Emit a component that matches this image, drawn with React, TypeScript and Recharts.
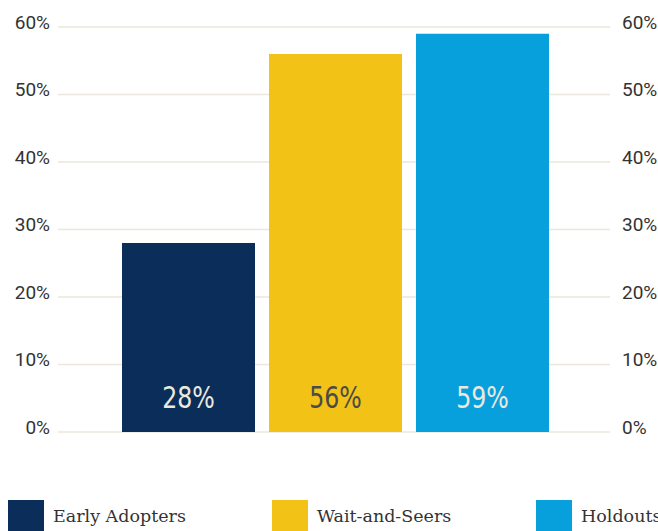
import { BarChart, Bar, Line, XAxis, YAxis, CartesianGrid, LabelList } from "recharts";

const groups = ["Early Adopters", "Wait-and-Seers", "Holdouts"];
const shares = [28, 56, 59];
const colors = ["#0a2d5a", "#f2c316", "#079fdc"];
const labelColors = ["#ece8dc", "#4a4a4a", "#ece8dc"];
const yTicks = [0, 10, 20, 30, 40, 50, 60];

const row: Record<string, number | string> = { name: "all" };
groups.forEach((g, i) => {
  row[g] = shares[i];
});
const data = [row];

const tickText = (anchor: "start" | "end") => (props: any) => {
  const { x, y, payload } = props;
  return (
    <text x={x} y={y - 5} dy="0.35em" textAnchor={anchor} fontFamily="Roboto" fontSize={19} fill="#333">
      {payload.value}%
    </text>
  );
};

// condensed look for the in-bar numbers
function valueLabel(color: string) {
  return (props: any) => {
    const { x, y, width, height, value } = props;
    const cx = x + width / 2;
    const base = y + height - 24;
    return (
      <text
        transform={`translate(${cx},${base}) scale(0.85,1)`}
        textAnchor="middle"
        fontFamily="DejaVu Sans Condensed"
        fontSize={31}
        fill={color}
      >
        {value}%
      </text>
    );
  };
}

export default function App() {
  return (
    <div style={{ position: "absolute", left: 0, top: 0, width: 658, height: 531, overflow: "hidden", background: "#fff" }}>
      <BarChart width={658} height={440} data={data} margin={{ top: 27, right: 0, bottom: 8, left: 0 }} barGap={14} barCategoryGap={0}>
        <CartesianGrid yAxisId="left" vertical={false} stroke="#ebe7dc" strokeWidth={1.5} />
        <XAxis dataKey="name" hide padding={{ left: 63, right: 61 }} />
        <YAxis yAxisId="left" orientation="left" width={58} domain={[0, 60]} ticks={yTicks} interval={0} axisLine={false} tickLine={false} tickMargin={2} tick={tickText("end")} />
        <YAxis yAxisId="right" orientation="right" width={48} domain={[0, 60]} ticks={yTicks} interval={0} axisLine={false} tickLine={false} tickMargin={6} tick={tickText("start")} />
        {groups.map((g, i) => (
          <Bar key={g} yAxisId="left" dataKey={g} fill={colors[i]} barSize={133} isAnimationActive={false}>
            <LabelList dataKey={g} content={valueLabel(labelColors[i])} />
          </Bar>
        ))}
        {/* invisible series so the right-hand axis gets drawn */}
        <Line
          yAxisId="right"
          dataKey={groups[0]}
          stroke="transparent"
          strokeWidth={0}
          fill="none"
          opacity={0}
          dot={false}
          activeDot={false}
          legendType="none"
          isAnimationActive={false}
        />
      </BarChart>
      <div style={{ position: "absolute", left: 8, top: 500, display: "flex" }}>
        {groups.map((g, i) => (
          <div key={g} style={{ width: 264, display: "flex", alignItems: "flex-start" }}>
            <div style={{ width: 36, height: 34, background: colors[i] }} />
            <span style={{ marginLeft: 9, marginTop: 6, fontFamily: "DejaVu Serif", fontSize: 17.5, color: "#333", whiteSpace: "nowrap" }}>{g}</span>
          </div>
        ))}
      </div>
    </div>
  );
}
